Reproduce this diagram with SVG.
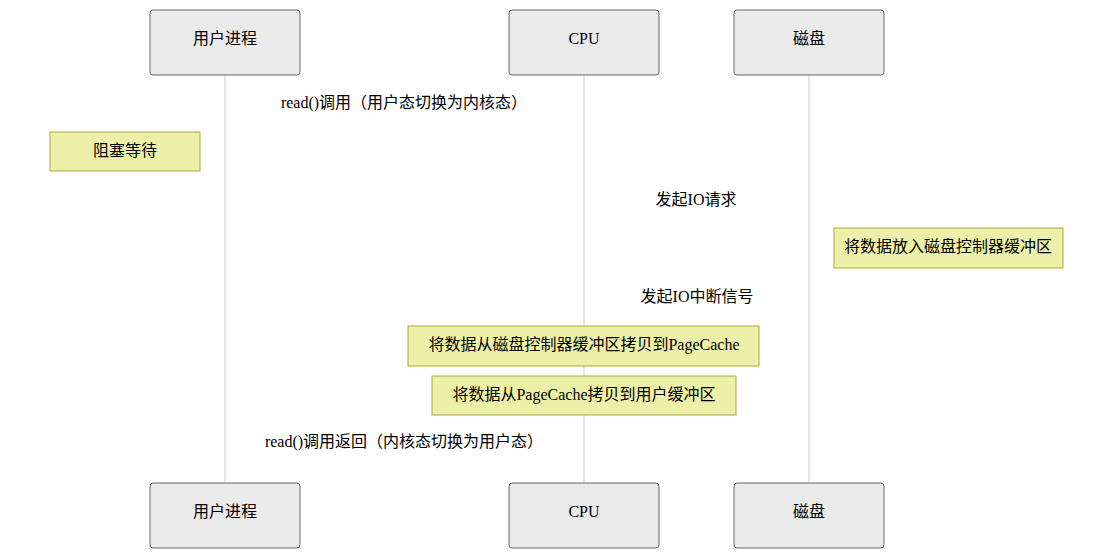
<svg xmlns="http://www.w3.org/2000/svg" width="1113" height="559" viewBox="0 0 1113 559">
<style>
.actor{fill:#eaeaea;stroke:#666;stroke-width:1}
.life{stroke:#ccc;stroke-width:1}
.note{fill:#ecf0a8;stroke:#aaaa33;stroke-width:1}
text{font-family:"Liberation Serif","Noto Sans CJK SC",serif;font-size:16px;fill:#000;text-anchor:middle;dominant-baseline:central}
</style>
<rect width="1113" height="559" fill="#fff"/>
<g id="lifelines">
<line class="life" x1="225" y1="75" x2="225" y2="483"/>
<line class="life" x1="584" y1="75" x2="584" y2="483"/>
<line class="life" x1="809" y1="75" x2="809" y2="483"/>
</g>
<g id="user-top"><rect class="actor" x="150" y="10" width="150" height="65" rx="3"/><text x="225" y="38">用户进程</text></g>
<g id="cpu-top"><rect class="actor" x="509" y="10" width="150" height="65" rx="3"/><text x="584" y="38">CPU</text></g>
<g id="disk-top"><rect class="actor" x="734" y="10" width="150" height="65" rx="3"/><text x="809" y="38">磁盘</text></g>
<g id="user-bottom"><rect class="actor" x="150" y="483" width="150" height="65" rx="3"/><text x="225" y="511">用户进程</text></g>
<g id="cpu-bottom"><rect class="actor" x="509" y="483" width="150" height="65" rx="3"/><text x="584" y="511">CPU</text></g>
<g id="disk-bottom"><rect class="actor" x="734" y="483" width="150" height="65" rx="3"/><text x="809" y="511">磁盘</text></g>
<g id="connectors">
<text x="404" y="102">read()调用（用户态切换为内核态）</text>
<text x="696" y="199">发起IO请求</text>
<text x="697" y="296">发起IO中断信号</text>
<text x="404" y="441">read()调用返回（内核态切换为用户态）</text>
</g>
<g id="note1"><rect class="note" x="50" y="132" width="150" height="39"/><text x="125" y="150">阻塞等待</text></g>
<g id="note2"><rect class="note" x="834" y="228" width="229" height="40"/><text x="948" y="246">将数据放入磁盘控制器缓冲区</text></g>
<g id="note3"><rect class="note" x="408" y="326" width="351" height="40"/><text x="584" y="344">将数据从磁盘控制器缓冲区拷贝到PageCache</text></g>
<g id="note4"><rect class="note" x="432" y="376" width="304" height="39"/><text x="584" y="394">将数据从PageCache拷贝到用户缓冲区</text></g>
</svg>
